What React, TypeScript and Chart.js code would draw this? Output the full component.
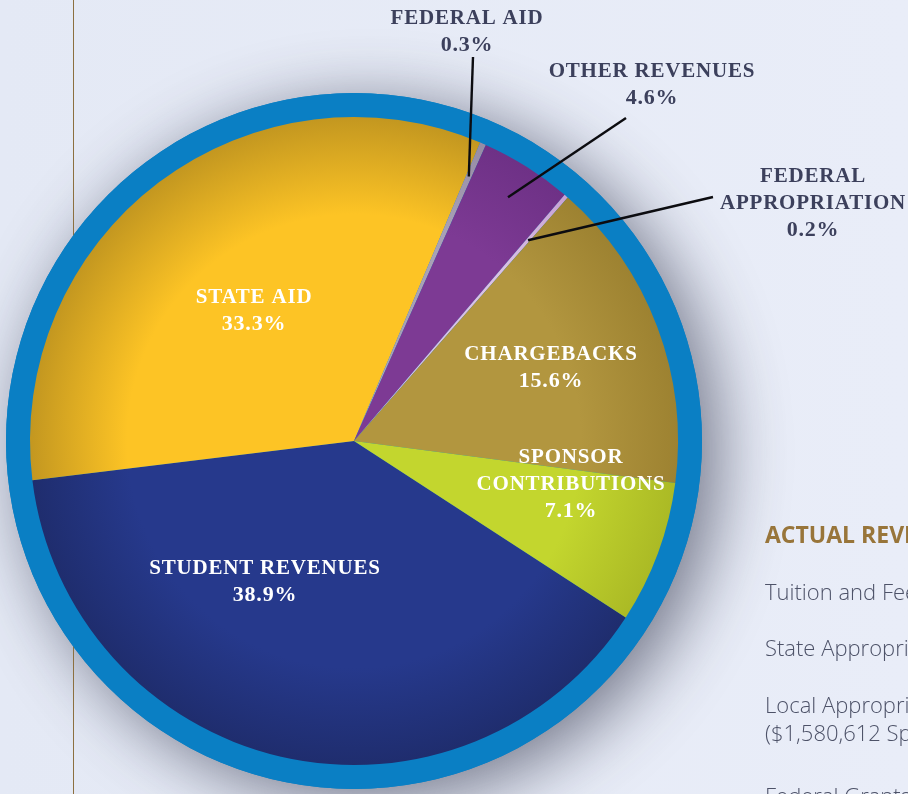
import React, { useEffect, useRef } from "react";
import { Chart, registerables } from "chart.js";

Chart.register(...registerables);

// ---- data ----
const categories = [
  "Student Revenues",
  "State Aid",
  "Federal Aid",
  "Other Revenues",
  "Federal Appropriation",
  "Chargebacks",
  "Sponsor Contributions",
];
const values = [38.9, 33.3, 0.3, 4.6, 0.2, 15.6, 7.1];
const labelLines = [
  ["STUDENT REVENUES"],
  ["STATE AID"],
  ["FEDERAL AID"],
  ["OTHER REVENUES"],
  ["FEDERAL", "APPROPRIATION"],
  ["CHARGEBACKS"],
  ["SPONSOR", "CONTRIBUTIONS"],
];
const baseColors = ["#26398c", "#fdc425", "#a9a1b6", "#7d3a94", "#dcc0e4", "#b2963f", "#c3d62e"];
const edgeColors = ["#1f2d6e", "#c39720", "#968ca5", "#6e3186", "#c8a2d4", "#9d8231", "#abba25"];
const sideHeading = "ACTUAL REVENUES";
const sideLines = [
  "Tuition and Fees",
  "State Appropriations",
  "Local Appropriations",
  "($1,580,612 Sponsor Contributions)",
  "Federal Grants",
];

// ---- layout (positions / styles only) ----
const labelPlacement = [
  { x: 265, y: 574, inside: true },
  { x: 254, y: 303, inside: true },
  { x: 467, y: 24, inside: false, ax: 473, ay: 57, leaderR: 0.89 },
  { x: 652, y: 77, inside: false, ax: 626, ay: 118, leaderR: 0.89 },
  { x: 813, y: 182, inside: false, ax: 713, ay: 197, leaderR: 0.82 },
  { x: 551, y: 360, inside: true },
  { x: 571, y: 463, inside: true },
];
const sideBaselines = [600, 656, 713, 741, 804];

const PIE_R = 324;
const RING_W = 24;

export default function App() {
  const ref = useRef<HTMLCanvasElement | null>(null);

  useEffect(() => {
    const canvas = ref.current;
    if (!canvas) return;

    const decorPlugin = {
      id: "decor",
      beforeDraw(chart: any) {
        const ctx = chart.ctx as CanvasRenderingContext2D;
        const { chartArea } = chart;
        const cx = (chartArea.left + chartArea.right) / 2;
        const cy = (chartArea.top + chartArea.bottom) / 2;
        const R = PIE_R + RING_W;
        ctx.save();
        const bg = ctx.createLinearGradient(0, 0, 908, 0);
        bg.addColorStop(0, "#e4e9f5");
        bg.addColorStop(1, "#e9edf8");
        ctx.fillStyle = bg;
        ctx.fillRect(0, 0, chart.width, chart.height);
        // shadow disc
        ctx.save();
        ctx.shadowColor = "rgba(40,44,66,0.62)";
        ctx.shadowBlur = 70;
        ctx.shadowOffsetX = 16;
        ctx.shadowOffsetY = 12;
        ctx.beginPath();
        ctx.arc(cx, cy, R, 0, Math.PI * 2);
        ctx.fillStyle = "#0a7fc4";
        ctx.fill();
        ctx.restore();
        // vertical page rule
        ctx.beginPath();
        ctx.moveTo(73.5, 0);
        ctx.lineTo(73.5, chart.height);
        ctx.strokeStyle = "#8c7040";
        ctx.lineWidth = 1;
        ctx.stroke();
        // ring
        ctx.beginPath();
        ctx.arc(cx, cy, R, 0, Math.PI * 2);
        ctx.fillStyle = "#0a7fc4";
        ctx.fill();
        ctx.restore();
      },
      afterDatasetsDraw(chart: any) {
        const ctx = chart.ctx as CanvasRenderingContext2D;
        const meta = chart.getDatasetMeta(0);
        ctx.save();
        ctx.textAlign = "center";
        ctx.textBaseline = "alphabetic";
        (ctx as any).letterSpacing = "0.8px";
        labelPlacement.forEach((p, i) => {
          const arc: any = meta.data[i];
          if (!p.inside && arc) {
            const mid = (arc.startAngle + arc.endAngle) / 2;
            const r = arc.outerRadius * (p.leaderR || 0.88);
            const ex = arc.x + Math.cos(mid) * r;
            const ey = arc.y + Math.sin(mid) * r;
            ctx.beginPath();
            ctx.moveTo(p.ax as number, p.ay as number);
            ctx.lineTo(ex, ey);
            ctx.strokeStyle = "#0c0c10";
            ctx.lineWidth = 2.4;
            ctx.stroke();
          }
          const lines = [...labelLines[i], values[i].toFixed(1) + "%"];
          ctx.fillStyle = p.inside ? "#ffffff" : "#3c405c";
          lines.forEach((t, k) => {
            const isPct = k === lines.length - 1;
            ctx.font = isPct
              ? "bold 22px 'Liberation Serif', serif"
              : "bold 21px 'Liberation Serif', serif";
            ctx.fillText(t, p.x, p.y + k * 27);
          });
        });
        // side document text
        (ctx as any).letterSpacing = "0px";
        ctx.textAlign = "left";
        ctx.fillStyle = "#98753a";
        ctx.font = "bold 23px 'Open Sans', sans-serif";
        ctx.fillText(sideHeading, 765, 543);
        ctx.fillStyle = "#4d5268";
        ctx.font = "300 22px 'Open Sans', sans-serif";
        sideLines.forEach((t, k) => ctx.fillText(t, 765, sideBaselines[k]));
        ctx.restore();
      },
    };

    const sliceFill = (ctx: any) => {
      const i = ctx.dataIndex;
      const chart = ctx.chart;
      const area = chart.chartArea;
      if (!area) return baseColors[i];
      const cx = (area.left + area.right) / 2;
      const cy = (area.top + area.bottom) / 2;
      const g = chart.ctx.createRadialGradient(cx, cy, 0, cx, cy, PIE_R);
      g.addColorStop(0, baseColors[i]);
      g.addColorStop(0.7, baseColors[i]);
      g.addColorStop(1, edgeColors[i]);
      return g;
    };

    const chart = new Chart(canvas, {
      type: "pie",
      data: {
        labels: categories,
        datasets: [
          {
            data: values,
            backgroundColor: sliceFill as any,
            borderWidth: 0,
          },
        ],
      },
      options: {
        responsive: false,
        maintainAspectRatio: false,
        devicePixelRatio: 1,
        animation: false,
        rotation: 123,
        radius: PIE_R,
        layout: { padding: { left: 0, right: 200, top: 88, bottom: 0 } },
        plugins: {
          legend: { display: false },
          tooltip: { enabled: false },
        },
        events: [],
      } as any,
      plugins: [decorPlugin],
    });
    return () => chart.destroy();
  }, []);

  return (
    <div style={{ position: "fixed", left: 0, top: 0, width: 908, height: 794 }}>
      <canvas ref={ref} width={908} height={794} style={{ display: "block" }} />
    </div>
  );
}
